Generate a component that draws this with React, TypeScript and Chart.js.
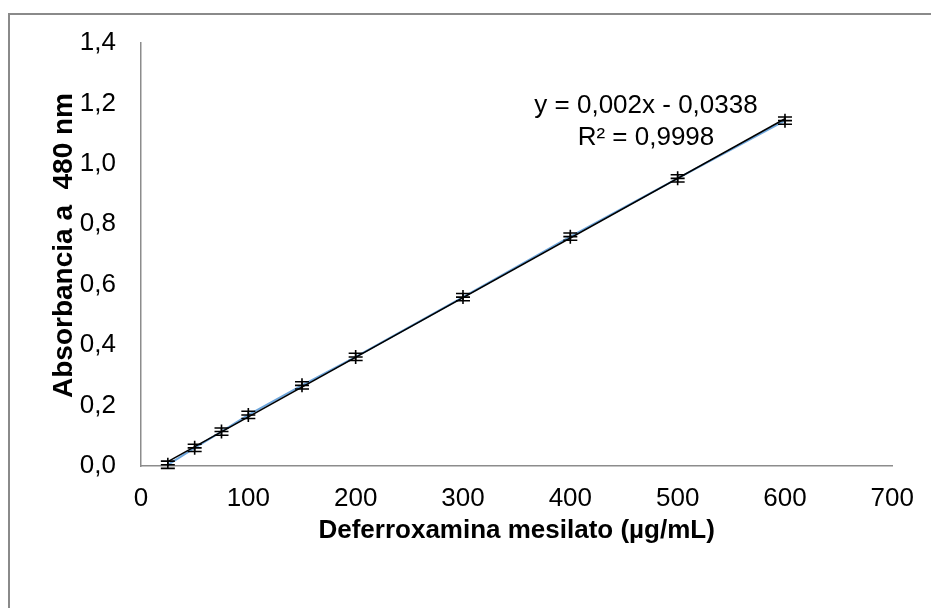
import React, { useEffect, useRef } from "react";
import { Chart, registerables } from "chart.js";

Chart.register(...registerables);

// Calibration points: concentration (µg/mL) vs absorbance at 480 nm
const concentrations = [25, 50, 75, 100, 150, 200, 300, 400, 500, 600];
const absorbances = [0.004, 0.06, 0.114, 0.169, 0.267, 0.361, 0.559, 0.759, 0.952, 1.143];
const absErrors = [0.012, 0.012, 0.012, 0.012, 0.012, 0.012, 0.012, 0.012, 0.012, 0.012];

const xTicks = [0, 100, 200, 300, 400, 500, 600, 700];
const yTicks = [0, 0.2, 0.4, 0.6, 0.8, 1.0, 1.2, 1.4];

const equationLines = ["y = 0,002x - 0,0338", "R² = 0,9998"];
const yAxisTitle = "Absorbancia a  480 nm";
const xAxisTitle = "Deferroxamina mesilato (µg/mL)";

const FONT = "'Liberation Sans', Arial, sans-serif";

// Least-squares fit used for the trendline
function linearFit(xs: number[], ys: number[]) {
  const n = xs.length;
  const mx = xs.reduce((a, b) => a + b, 0) / n;
  const my = ys.reduce((a, b) => a + b, 0) / n;
  let sxy = 0;
  let sxx = 0;
  for (let i = 0; i < n; i++) {
    sxy += (xs[i] - mx) * (ys[i] - my);
    sxx += (xs[i] - mx) * (xs[i] - mx);
  }
  const slope = sxy / sxx;
  return { slope, intercept: my - slope * mx };
}

const fit = linearFit(concentrations, absorbances);
const xFirst = concentrations[0];
const xLast = concentrations[concentrations.length - 1];

const frameAndExtras = {
  id: "frameAndExtras",
  beforeDraw(chart: any) {
    const ctx = chart.ctx;
    ctx.save();
    ctx.strokeStyle = "#8a8a8a";
    ctx.lineWidth = 2;
    ctx.beginPath();
    ctx.moveTo(9, 608);
    ctx.lineTo(9, 14);
    ctx.lineTo(931, 14);
    ctx.stroke();
    ctx.restore();
  },
  afterDraw(chart: any) {
    const ctx = chart.ctx;
    const area = chart.chartArea;
    ctx.save();
    ctx.fillStyle = "#000";
    ctx.font = `bold 28px ${FONT}`;
    ctx.textAlign = "center";
    ctx.textBaseline = "middle";
    ctx.translate(64, (area.top + area.bottom) / 2 - 9);
    ctx.rotate(-Math.PI / 2);
    ctx.fillText(yAxisTitle, 0, 0);
    ctx.restore();
  },
  afterDatasetsDraw(chart: any) {
    const ctx = chart.ctx;
    const xs = chart.scales.x;
    const ys = chart.scales.y;
    ctx.save();
    // error bars with caps
    ctx.strokeStyle = "#000";
    ctx.lineWidth = 1.6;
    for (let i = 0; i < concentrations.length; i++) {
      const px = xs.getPixelForValue(concentrations[i]);
      const top = ys.getPixelForValue(absorbances[i] + absErrors[i]);
      const bot = ys.getPixelForValue(absorbances[i] - absErrors[i]);
      ctx.beginPath();
      ctx.moveTo(px, top);
      ctx.lineTo(px, bot);
      ctx.moveTo(px - 7, top);
      ctx.lineTo(px + 7, top);
      ctx.moveTo(px - 7, bot);
      ctx.lineTo(px + 7, bot);
      ctx.stroke();
    }
    // trend equation
    ctx.fillStyle = "#000";
    ctx.font = `26px ${FONT}`;
    ctx.textAlign = "center";
    ctx.textBaseline = "middle";
    ctx.fillText(equationLines[0], 646, 106);
    ctx.fillText(equationLines[1], 646, 138);
    ctx.restore();
  },
};

export default function App() {
  const canvasRef = useRef<HTMLCanvasElement | null>(null);

  useEffect(() => {
    const canvas = canvasRef.current;
    if (!canvas) return;
    const chart = new Chart(canvas, {
      type: "scatter",
      data: {
        datasets: [
          {
            label: "Trendline",
            data: [
              { x: xFirst, y: fit.slope * xFirst + fit.intercept },
              { x: xLast, y: fit.slope * xLast + fit.intercept },
            ],
            showLine: true,
            borderColor: "#000",
            borderWidth: 1.5,
            pointRadius: 0,
            order: 0,
          },
          {
            label: "Absorbancia",
            data: concentrations.map((c, i) => ({ x: c, y: absorbances[i] })),
            showLine: true,
            borderColor: "#6ea6dc",
            borderWidth: 2,
            pointStyle: "cross",
            pointRadius: 7,
            pointBorderColor: "#000",
            pointBorderWidth: 1.6,
            order: 1,
          },
        ],
      },
      options: {
        responsive: false,
        animation: false,
        devicePixelRatio: 1,
        layout: { padding: { top: 43, right: 38, left: 0, bottom: 0 } },
        plugins: {
          legend: { display: false },
          tooltip: { enabled: false },
        },
        scales: {
          x: {
            type: "linear",
            min: 0,
            max: 700,
            afterBuildTicks(scale: any) {
              scale.ticks = xTicks.map((v) => ({ value: v }));
            },
            afterFit(scale: any) {
              scale.height = 608 - 466;
            },
            grid: { display: false, drawTicks: false, tickLength: 0 },
            border: { display: true, color: "#8c8c8c", width: 1.5 },
            ticks: {
              color: "#000",
              font: { family: FONT, size: 26 },
              padding: 17,
              maxRotation: 0,
              callback: (v: any) => String(v),
            },
            title: {
              display: true,
              text: xAxisTitle,
              color: "#000",
              font: { family: FONT, size: 26, weight: "bold" },
              padding: { top: 0, bottom: 62 },
            },
          },
          y: {
            type: "linear",
            min: 0,
            max: 1.4,
            afterBuildTicks(scale: any) {
              scale.ticks = yTicks.map((v) => ({ value: v }));
            },
            afterFit(scale: any) {
              scale.width = 141;
            },
            grid: { display: false, drawTicks: false, tickLength: 0 },
            border: { display: true, color: "#8c8c8c", width: 1.5 },
            ticks: {
              color: "#000",
              font: { family: FONT, size: 26 },
              padding: 25,
              callback: (v: any) => Number(v).toFixed(1).replace(".", ","),
            },
          },
        },
      },
      plugins: [frameAndExtras],
    });
    return () => chart.destroy();
  }, []);

  return (
    <div style={{ position: "fixed", left: 0, top: 0, width: 931, height: 608, background: "#fff" }}>
      <canvas ref={canvasRef} width={931} height={608} style={{ display: "block", width: 931, height: 608 }} />
    </div>
  );
}
